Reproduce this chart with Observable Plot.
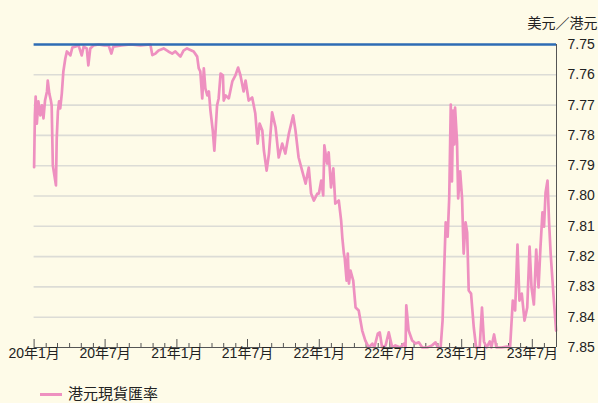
<!DOCTYPE html>
<html><head><meta charset="utf-8">
<script src="https://cdn.jsdelivr.net/npm/d3@7"></script>
<script src="https://cdn.jsdelivr.net/npm/@observablehq/plot@0.6"></script>
<style>
html,body{margin:0;padding:0;background:#fefbe8;width:598px;height:403px;overflow:hidden;position:relative;font-family:"Liberation Sans","Noto Sans CJK JP",sans-serif;}
#legend{position:absolute;left:40px;top:385px;display:flex;align-items:center;font-size:15px;color:#222;line-height:18px;}
#legend .sw{display:inline-block;width:22px;height:3px;background:#ee90c0;margin-right:6px;}
</style></head><body><div id="chart"></div><div id="legend"><span class="sw"></span><span id="lt"></span></div>
<script>
const seriesName = "港元現貨匯率";
const unitLabel = "美元／港元";
const dates = ["2020-01-01","2020-01-03","2020-01-05","2020-01-08","2020-01-12","2020-01-17","2020-01-21","2020-01-25","2020-01-29","2020-02-03","2020-02-05","2020-02-09","2020-02-13","2020-02-15","2020-02-18","2020-02-22","2020-02-26","2020-02-28","2020-03-02","2020-03-05","2020-03-08","2020-03-12","2020-03-16","2020-03-21","2020-03-25","2020-04-03","2020-04-08","2020-04-15","2020-04-24","2020-05-02","2020-05-07","2020-05-15","2020-05-19","2020-05-24","2020-06-01","2020-06-14","2020-06-29","2020-07-10","2020-07-17","2020-07-22","2020-08-12","2020-09-04","2020-09-30","2020-10-25","2020-10-30","2020-11-07","2020-11-15","2020-11-28","2020-12-10","2020-12-20","2020-12-28",
"2021-01-10","2021-01-18","2021-01-27","2021-02-13","2021-02-22","2021-02-26","2021-03-02","2021-03-07","2021-03-11","2021-03-15","2021-03-20","2021-03-24","2021-03-28","2021-04-03","2021-04-07","2021-04-10","2021-04-14","2021-04-18","2021-04-23","2021-04-29","2021-05-01","2021-05-06","2021-05-14","2021-05-23","2021-05-31","2021-06-07","2021-06-13","2021-06-21","2021-06-26","2021-07-04","2021-07-13","2021-07-21","2021-07-27","2021-08-01","2021-08-08","2021-08-12","2021-08-19","2021-08-25","2021-09-02","2021-09-11","2021-09-19","2021-09-28","2021-10-06","2021-10-15","2021-10-26","2021-11-01","2021-11-09","2021-11-18","2021-11-27","2021-12-05","2021-12-11","2021-12-18","2021-12-27","2021-12-31",
"2022-01-06","2022-01-11","2022-01-14","2022-01-21","2022-01-25","2022-01-31","2022-02-06","2022-02-11","2022-02-20","2022-02-26","2022-03-01","2022-03-05","2022-03-07","2022-03-12","2022-03-15","2022-03-18","2022-03-22","2022-03-29","2022-04-04","2022-04-12","2022-04-21","2022-04-29","2022-05-08","2022-05-17","2022-05-22","2022-05-31","2022-06-05","2022-06-11","2022-06-20","2022-06-28","2022-07-07","2022-07-15","2022-07-28","2022-08-06","2022-08-10","2022-08-12","2022-08-18","2022-08-27","2022-09-05","2022-09-13","2022-09-22","2022-10-05","2022-10-17","2022-10-26","2022-11-01","2022-11-08","2022-11-13","2022-11-17","2022-11-21","2022-11-26","2022-11-30","2022-12-04","2022-12-07","2022-12-10","2022-12-13","2022-12-15","2022-12-20","2022-12-23","2022-12-28",
"2023-01-02","2023-01-06","2023-01-11","2023-01-15","2023-01-19","2023-01-25","2023-02-01","2023-02-07","2023-02-16","2023-02-22","2023-02-27","2023-03-06","2023-03-14","2023-03-18","2023-03-25","2023-03-31","2023-04-13","2023-04-27","2023-05-05","2023-05-12","2023-05-18","2023-05-24","2023-05-29","2023-06-04","2023-06-11","2023-06-18","2023-06-24","2023-06-29","2023-07-05","2023-07-11","2023-07-17","2023-07-22","2023-07-27","2023-07-31","2023-08-04","2023-08-09","2023-08-13","2023-08-17","2023-08-24","2023-08-31"];
const rates = [7.7905,7.7734,7.7672,7.7761,7.7688,7.7734,7.7701,7.7744,7.7685,7.7655,7.7619,7.7662,7.7685,7.7701,7.7899,7.7932,7.7965,7.7810,7.7721,7.7688,7.7711,7.7662,7.7589,7.7546,7.7523,7.7536,7.7510,7.7507,7.7503,7.7536,7.7507,7.7513,7.7569,7.7513,7.7503,7.7500,7.7503,7.7503,7.7530,7.7507,7.7503,7.7500,7.7503,7.7500,7.7535,7.7530,7.7520,7.7513,7.7523,7.7530,7.7523,
7.7540,7.7520,7.7513,7.7523,7.7540,7.7579,7.7589,7.7678,7.7579,7.7645,7.7668,7.7655,7.7718,7.7784,7.7850,7.7787,7.7701,7.7678,7.7596,7.7602,7.7685,7.7668,7.7678,7.7622,7.7602,7.7576,7.7602,7.7655,7.7619,7.7685,7.7675,7.7728,7.7827,7.7761,7.7784,7.7850,7.7916,7.7860,7.7724,7.7774,7.7873,7.7827,7.7860,7.7794,7.7734,7.7784,7.7873,7.7916,7.7959,7.7906,7.7992,7.8015,7.7992,7.7992,
7.7949,7.7998,7.7833,7.7893,7.7856,7.7972,7.7909,7.8025,7.8015,7.8081,7.8137,7.8190,7.8203,7.8279,7.8190,7.8289,7.8246,7.8279,7.8368,7.8378,7.8444,7.8477,7.8500,7.8487,7.8500,7.8454,7.8450,7.8500,7.8493,7.8450,7.8500,7.8493,7.8500,7.8487,7.8500,7.8361,7.8444,7.8477,7.8487,7.8483,7.8500,7.8500,7.8493,7.8483,7.8500,7.8500,7.8411,7.8246,7.8087,7.8134,7.8008,7.7698,7.7952,7.7718,7.7830,7.7708,7.7820,7.8008,7.7919,
7.8008,7.8190,7.8087,7.8120,7.8312,7.8322,7.8434,7.8500,7.8500,7.8368,7.8480,7.8500,7.8480,7.8500,7.8457,7.8500,7.8500,7.8497,7.8500,7.8345,7.8378,7.8160,7.8345,7.8322,7.8411,7.8368,7.8167,7.8302,7.8358,7.8177,7.8302,7.8167,7.8054,7.8101,7.7988,7.7949,7.8087,7.8190,7.8322,7.8444];
const yTicks = [7.75,7.76,7.77,7.78,7.79,7.80,7.81,7.82,7.83,7.84,7.85];
const xLabelDates = ["2020-01-01","2020-07-01","2021-01-01","2021-07-01","2022-01-01","2022-07-01","2023-01-01","2023-07-01"];
const xLabels = ["20年1月","20年7月","21年1月","21年7月","22年1月","22年7月","23年1月","23年7月"];
const xDomain = ["2020-01-01","2023-09-01"];
const pegRate = 7.75;

const data = dates.map((d,i)=>({date:new Date(d), rate:rates[i]}));
const labelDates = xLabelDates.map(d=>new Date(d));
const labelMap = new Map(labelDates.map((d,i)=>[+d, xLabels[i]]));
const start = new Date(xDomain[0]), end = new Date(xDomain[1]);
const months = d3.utcMonth.range(start, end);
const majorMonths = months.filter(d=>d.getUTCMonth()%6===0);
const minorMonths = months.filter(d=>d.getUTCMonth()%6!==0);

const W=598,H=403,mt=44,mb=56,ml=33.6,mr=42;
const inner=H-mt-mb;
const axisColor="#555";
const chart = Plot.plot({
  width:W,height:H,marginTop:mt,marginBottom:mb,marginLeft:ml,marginRight:mr,
  style:{background:"transparent",fontSize:"14px",fontFamily:'"Liberation Sans","Noto Sans CJK JP",sans-serif',color:"#222"},
  x:{type:"utc",domain:[start,end]},
  y:{domain:[7.75,7.85],reverse:true},
  marks:[
    Plot.ruleY(yTicks.filter(v=>v>7.75&&v<7.85),{stroke:"#dcdcd6",strokeWidth:1.6}),
    Plot.ruleX(minorMonths,{x:d=>d,stroke:axisColor,strokeWidth:1,insetTop:inner-4}),
    Plot.ruleX(majorMonths,{x:d=>d,stroke:axisColor,strokeWidth:1,insetTop:inner-8}),
    Plot.line(data,{x:"date",y:"rate",stroke:"#ee90c0",strokeWidth:2.7,strokeLinejoin:"round"}),
    Plot.ruleY([pegRate],{stroke:"#2e6cb4",strokeWidth:2.6}),
    Plot.ruleY([7.85],{stroke:axisColor,strokeWidth:1}),
    Plot.ruleX([end],{stroke:axisColor,strokeWidth:1}),
    Plot.axisY({anchor:"right",ticks:yTicks,tickFormat:d=>d.toFixed(2),tickSize:0,tickPadding:11,label:null,fontSize:14}),
    Plot.axisX({ticks:labelDates,tickFormat:d=>labelMap.get(+d),tickSize:0,tickPadding:1,label:null,fontSize:14}),
    Plot.text([unitLabel],{frameAnchor:"top-right",dx:41,dy:-26,textAnchor:"end",fill:"#222",fontSize:14})
  ]
});
document.getElementById("chart").appendChild(chart);
document.getElementById("lt").textContent = seriesName;
</script></body></html>
